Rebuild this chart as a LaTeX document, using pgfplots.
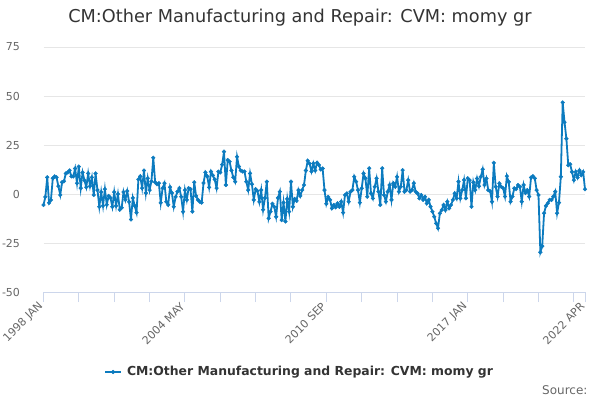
\documentclass[border=0pt]{standalone}
\usepackage{fontspec}
\setmainfont{DejaVu Sans}
\usepackage{pgfplots}
\usepackage{pgfplotstable}
\pgfplotsset{compat=1.18}
\definecolor{series}{HTML}{0C7BBF}
\definecolor{gridc}{HTML}{E6E6E6}
\definecolor{axisc}{HTML}{CCD6EB}
\definecolor{labc}{HTML}{666666}
\definecolor{titc}{HTML}{333333}
\pgfplotstableread{
v
-5.6
-1.5
8.5
-4.5
-3
8
9
8.5
4
-0.5
6
6.5
10.5
11
12
9
9
13
5.5
14
3
11
7
3.5
10.5
4
8.5
-0.5
10.5
2
-6.5
1
-6
2.5
-5.5
-1
-2
-6.5
1
-6
0
-8
-7
1
-3
1.5
-4
-13
-2
-6
-9.5
7.5
9
3
12
0.5
8
2
6.5
18.5
6
5
5.5
-4.5
3
5.5
-4
-5.5
3.5
0.5
-6.5
-1.5
1.2
3
-1.4
-9
2
-3
3
2.5
-9
6
-1
-3
-4
-4.4
5.6
11
9
3.4
11.4
9.5
7.5
3
11.4
11
15
21.6
4.6
17.3
16.5
12
8.5
6.3
19
14
12
11.5
11.5
6.3
2
10.5
5
-3
2.5
1.5
-4
2
-8
-2
6.3
-12.4
-9
-5
-6.5
-11.6
-2
1.2
-13.3
-4.4
-14
-2.5
-9
6.3
-6.5
-2.5
-3.5
2
-1
2
4.6
12
17
15.5
11.5
15.6
12
16
14.8
12.5
13
2
-5
-1.5
-3
-7.3
-5.6
-6.8
-4.8
-6.5
-3.9
-9.5
-0.5
0.3
-3.9
1.2
2
8.8
6.3
2
-4.4
2.9
10.5
8
-1.4
13.1
0.3
-2.2
3.7
8
1.2
-5.6
13.1
-0.5
-3.9
1.2
4.6
-3
5.5
3.7
8.8
1.2
3.7
12.2
1.2
2
7.1
1.2
2
5.5
1.2
0.3
-2.2
-0.5
-3
-1.4
-4.8
-3
-6.5
-9
-11.6
-15
-17.5
-9.9
-8.2
-5.6
-8.2
-3.9
-7.3
-5.6
-3
0.3
-2.2
6.3
-2.2
2
7.1
-2.2
8
7.1
-6.5
6
2
7.9
4
8.8
12.6
4.6
7.9
2
1.5
-3.9
15.9
3.7
-1.3
5.4
3.7
3
-1.3
9.1
6.2
-3.9
-1.3
2.9
2.5
4.6
3.7
-3.9
4.6
0.5
2
-1.3
8.4
9.1
8
2
-0.5
-29.7
-26.6
-9.8
-6.1
-4.7
-3
-3
-1.3
1.2
-9.8
-4.4
8.8
46.7
36.6
28.2
14.7
15.2
11.3
7.1
11.3
8.4
12.1
9.6
11.3
2.4
}\datatable
\begin{document}
\begin{tikzpicture}[x=1bp,y=1bp]
\useasboundingbox (0,0) rectangle (600,400);
\node[font=\fontsize{17.7bp}{22bp}\selectfont, text=titc] at (300,382) {CM:Other Manufacturing and Repair: CVM: momy gr};
\begin{axis}[
  at={(43.5bp,108bp)}, anchor=south west,
  scale only axis, width=541.5bp, height=245bp,
  xmin=0, xmax=291, ymin=-50, ymax=75,
  axis lines*=left,
  x axis line style={draw=axisc, line width=1bp, -},
  y axis line style={draw=none},
  xtick={0,76,152,228,291},
  xticklabels={1998 JAN,2004 MAY,2010 SEP,2017 JAN,2022 APR},
  minor xtick={19,38,57,95,114,133,171,190,209,247,266,285},
  tick align=outside,
  major tick length=10bp, minor tick length=10bp,
  xtick style={draw=axisc, line width=1bp},
  ytick={-50,-25,0,25,50,75},
  ytick style={draw=none},
  ymajorgrids, grid style={draw=gridc, line width=1bp},
  /pgf/number format/assume math mode=true,
  tick label style={font=\fontsize{11bp}{13bp}\selectfont, text=labc},
  xticklabel style={rotate=45, anchor=east},
  yticklabel style={anchor=east, xshift=-10bp},
  legend style={at={(0.4757,-0.3265)}, anchor=center, draw=none, fill=none,
    font=\bfseries\fontsize{12.4bp}{15bp}\selectfont, text=titc,
    nodes={inner xsep=5bp}},
  legend image code/.code={
    \draw[#1, mark=none] (0bp,0bp) -- (16bp,0bp);
    \draw[#1] plot coordinates {(8bp,0bp)};},
  clip=false,
]
\addplot[color=series, line width=1.8bp, mark=*, mark size=1.9bp,
  mark options={fill=series, draw=series, line width=0.4bp}]
  table[x expr=\coordindex, y=v] {\datatable};
\addlegendentry{CM:Other Manufacturing and Repair: CVM: momy gr}
\end{axis}
\node[anchor=east, font=\fontsize{12bp}{14bp}\selectfont, text=labc] at (591,10) {Source:};
\end{tikzpicture}
\end{document}
